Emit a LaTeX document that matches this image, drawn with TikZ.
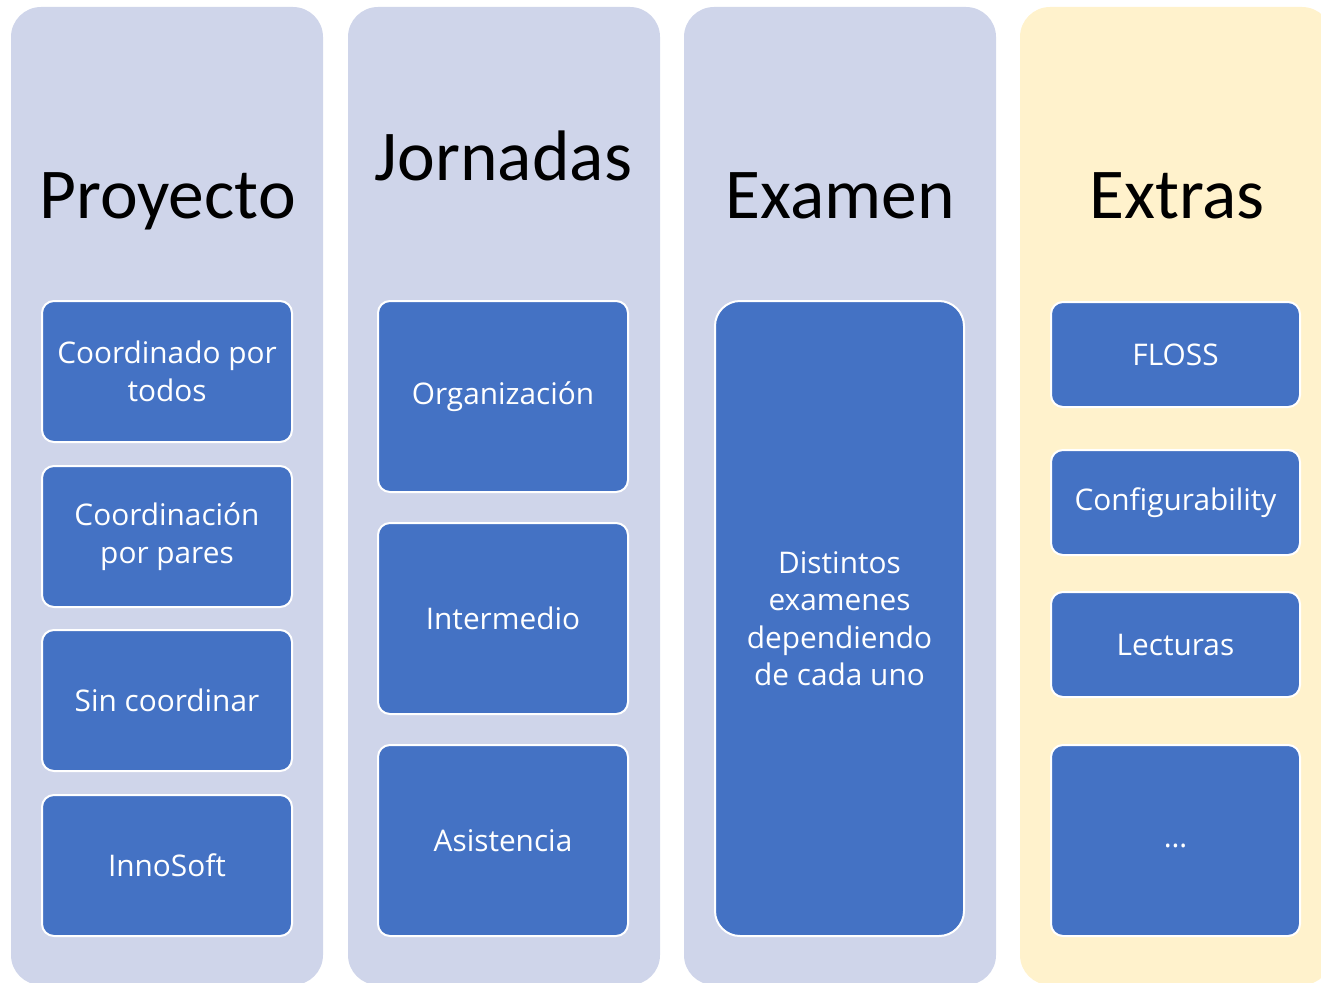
\documentclass[tikz,border=0pt]{standalone}
\usepackage{fontspec}
\setmainfont{Carlito}
\newfontfamily\itemfont{Open Sans}
\definecolor{colblue}{HTML}{CFD5EA}
\definecolor{colyellow}{HTML}{FFF2CC}
\definecolor{boxblue}{HTML}{4472C4}
\tikzset{
  colbox/.style={rounded corners=30pt, inner sep=0pt, draw=none},
  itembox/.style={fill=boxblue, draw=white, line width=2pt, rounded corners=12pt,
    inner sep=0pt, text=white, align=center, font=\itemfont\fontsize{29.8}{37.5}\selectfont},
  title/.style={anchor=base, inner sep=0pt, font=\fontsize{71.5}{80}\selectfont, text=black}
}
\begin{document}
\begin{tikzpicture}[x=1pt, y=-1pt]
\useasboundingbox (0,0) rectangle (1321,982);
\clip (0,0) rectangle (1321,982);
% columns
\node[colbox, fill=colblue, minimum width=312pt, minimum height=978pt] (c1) at (167,496) {};
\node[colbox, fill=colblue, minimum width=312pt, minimum height=978pt] (c2) at (504,496) {};
\node[colbox, fill=colblue, minimum width=312pt, minimum height=978pt] (c3) at (840,496) {};
\node[colbox, fill=colyellow, minimum width=312pt, minimum height=978pt] (c4) at (1176,496) {};
% titles
\node[title] (t1) at (167.5,218) {Proyecto};
\node[title] (t2) at (503.5,180) {Jornadas};
\node[title] (t3) at (840,218) {Examen};
\node[title] (t4) at (1177,218) {Extras};
% column 1
\node[itembox, minimum width=250pt, minimum height=141pt] (p1) at (167,371.5) {Coordinado por\\todos};
\node[itembox, minimum width=250pt, minimum height=141pt] (p2) at (167,536.5) {Coordinación\\por pares};
\node[itembox, minimum width=250pt, minimum height=141pt] (p3) at (167,700.5) {Sin coordinar};
\node[itembox, minimum width=250pt, minimum height=141pt] (p4) at (167,865.5) {InnoSoft};
% column 2
\node[itembox, minimum width=250pt, minimum height=191pt] (j1) at (503,396.5) {Organización};
\node[itembox, minimum width=250pt, minimum height=191pt] (j2) at (503,618.5) {Intermedio};
\node[itembox, minimum width=250pt, minimum height=191pt] (j3) at (503,840.5) {Asistencia};
% column 3
\node[itembox, rounded corners=25pt, minimum width=249pt, minimum height=635pt] (e1) at (839.5,618.5) {Distintos\\examenes\\dependiendo\\de cada uno};
% column 4
\node[itembox, minimum width=249pt, minimum height=105pt] (x1) at (1175.5,354.5) {FLOSS};
\node[itembox, minimum width=249pt, minimum height=105pt] (x2) at (1175.5,502.5) {Configurability};
\node[itembox, minimum width=249pt, minimum height=105pt] (x3) at (1175.5,644.5) {Lecturas};
\node[itembox, minimum width=249pt, minimum height=191pt] (x4) at (1175.5,840.5) {\vphantom{Ag}…};
\end{tikzpicture}
\end{document}
